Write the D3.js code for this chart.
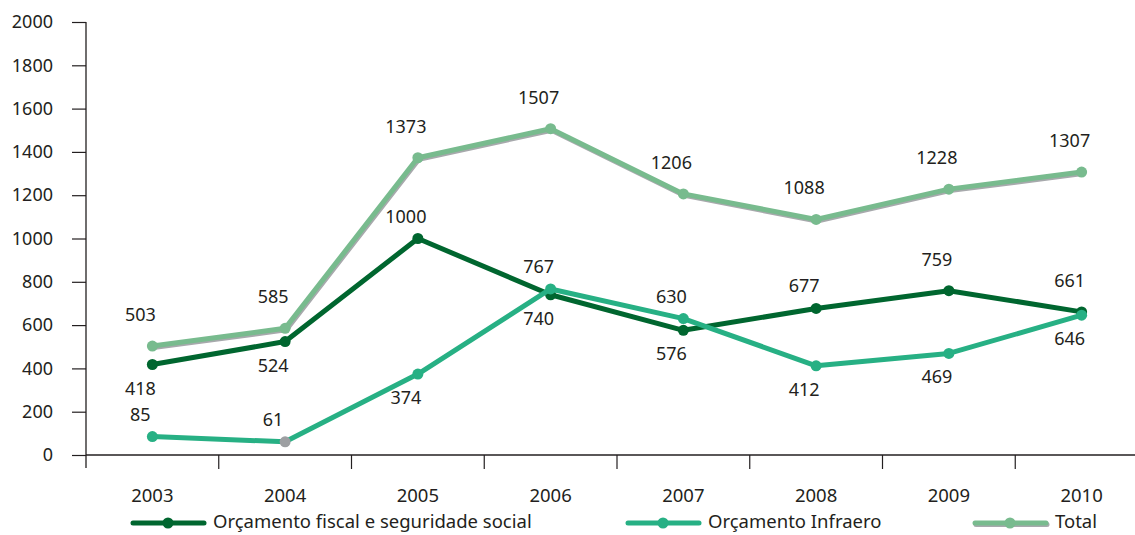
<!DOCTYPE html>
<html>
<head>
<meta charset="utf-8">
<script src="https://cdn.jsdelivr.net/npm/d3@7"></script>
<style>
  body { margin: 0; background: #fff; }
  text { font-family: "Noto Sans", "Open Sans", sans-serif; fill: #231f20; }
</style>
</head>
<body>
<svg id="chart" width="1135" height="535"></svg>
<script>
// data
const years = ["2003", "2004", "2005", "2006", "2007", "2008", "2009", "2010"];
const fiscal = [418, 524, 1000, 740, 576, 677, 759, 661];
const infraero = [85, 61, 374, 767, 630, 412, 469, 646];
const total = [503, 585, 1373, 1507, 1206, 1088, 1228, 1307];
// label placement: "a" = just above point, "h" = higher above, "b" = below
const fiscalPos = ["b", "b", "a", "b", "b", "a", "h", "h"];
const infraeroPos = ["a", "a", "b", "a", "a", "b", "b", "b"];
const totalPos = ["h", "h", "h", "h", "h", "h", "h", "h"];
const yTicks = [0, 200, 400, 600, 800, 1000, 1200, 1400, 1600, 1800, 2000];

const series = [
    { name: "Orçamento fiscal e seguridade social", values: fiscal, pos: fiscalPos, color: "#00662f" },
    { name: "Orçamento Infraero", values: infraero, pos: infraeroPos, color: "#27b084" },
    { name: "Total", values: total, pos: totalPos, color: "#78bb8e", shadow: true }
];

const svg = d3.select("#chart");

const x = d3.scaleBand().domain(years).range([86, 1148]);
const y = d3.scaleLinear().domain([0, 2000]).range([455, 22]);

// y axis
const yAxis = svg.append("g")
    .attr("transform", "translate(86,0)")
    .call(d3.axisLeft(y).tickValues(yTicks).tickSize(14).tickPadding(19).tickFormat(d3.format("d")));
yAxis.select(".domain").attr("d", "M0,22V468").attr("stroke", "#231f20").attr("stroke-width", 1.3);
yAxis.selectAll(".tick line").attr("stroke", "#231f20").attr("stroke-width", 1.2);
yAxis.selectAll(".tick text").attr("font-size", 18).style("font-family", "Noto Sans");

// x axis: baseline with ticks between categories
const xAxis = svg.append("g");
xAxis.append("line")
    .attr("x1", 86).attr("x2", 1135)
    .attr("y1", y(0)).attr("y2", y(0))
    .attr("stroke", "#231f20").attr("stroke-width", 1.3);
xAxis.selectAll(".xtick")
    .data(years.slice(1))
    .join("line")
    .attr("x1", d => x(d)).attr("x2", d => x(d))
    .attr("y1", y(0)).attr("y2", y(0) + 14)
    .attr("stroke", "#231f20").attr("stroke-width", 1.2);
xAxis.selectAll(".xlabel")
    .data(years)
    .join("text")
    .attr("x", d => x(d) + x.bandwidth() / 2)
    .attr("y", 502)
    .attr("text-anchor", "middle")
    .attr("font-size", 18.5)
    .text(d => d);

const line = d3.line()
    .x((d, i) => x(years[i]) + x.bandwidth() / 2)
    .y(d => y(d));

series.forEach(s => {
    const g = svg.append("g");
    if (s.shadow) {
        g.append("path")
            .datum(s.values)
            .attr("fill", "none")
            .attr("stroke", "#a7a9ac")
            .attr("stroke-width", 5)
            .attr("stroke-linejoin", "round")
            .attr("transform", "translate(1,1.5)")
            .attr("d", line);
    }
    g.append("path")
        .datum(s.values)
        .attr("fill", "none")
        .attr("stroke", s.color)
        .attr("stroke-width", 5)
        .attr("stroke-linejoin", "round")
        .attr("d", line);
    g.selectAll("circle")
        .data(s.values)
        .join("circle")
        .attr("cx", (d, i) => x(years[i]) + x.bandwidth() / 2)
        .attr("cy", d => y(d))
        .attr("r", 5.5)
        .attr("fill", (d, i) => (s.name === "Orçamento Infraero" && i === 1) ? "#9d9fa2" : s.color);
});

// value labels drawn on top
const labelOffset = { a: -16, h: -25, b: 30 };
series.forEach(s => {
    svg.append("g").selectAll("text")
        .data(s.values)
        .join("text")
        .attr("x", (d, i) => x(years[i]) + x.bandwidth() / 2 - 12)
        .attr("y", (d, i) => y(d) + labelOffset[s.pos[i]])
        .attr("text-anchor", "middle")
        .attr("font-size", 18)
        .text(d => d);
});

// legend
const legendX = [133, 628, 975];
const legend = svg.append("g").selectAll("g")
    .data(series)
    .join("g")
    .attr("transform", (d, i) => "translate(" + legendX[i] + ",523)");
legend.filter(d => d.shadow).append("line")
    .attr("x1", 1).attr("x2", 72).attr("y1", 1.5).attr("y2", 1.5)
    .attr("stroke", "#a7a9ac").attr("stroke-width", 5).attr("stroke-linecap", "round");
legend.append("line")
    .attr("x1", 0).attr("x2", 71)
    .attr("stroke", d => d.color).attr("stroke-width", 5).attr("stroke-linecap", "round");
legend.append("circle")
    .attr("cx", 35).attr("r", 5.5)
    .attr("fill", d => d.color);
legend.append("text")
    .attr("x", 80).attr("y", -1).attr("dy", "0.35em")
    .attr("font-size", 18.5)
    .text(d => d.name);
</script>
</body>
</html>
